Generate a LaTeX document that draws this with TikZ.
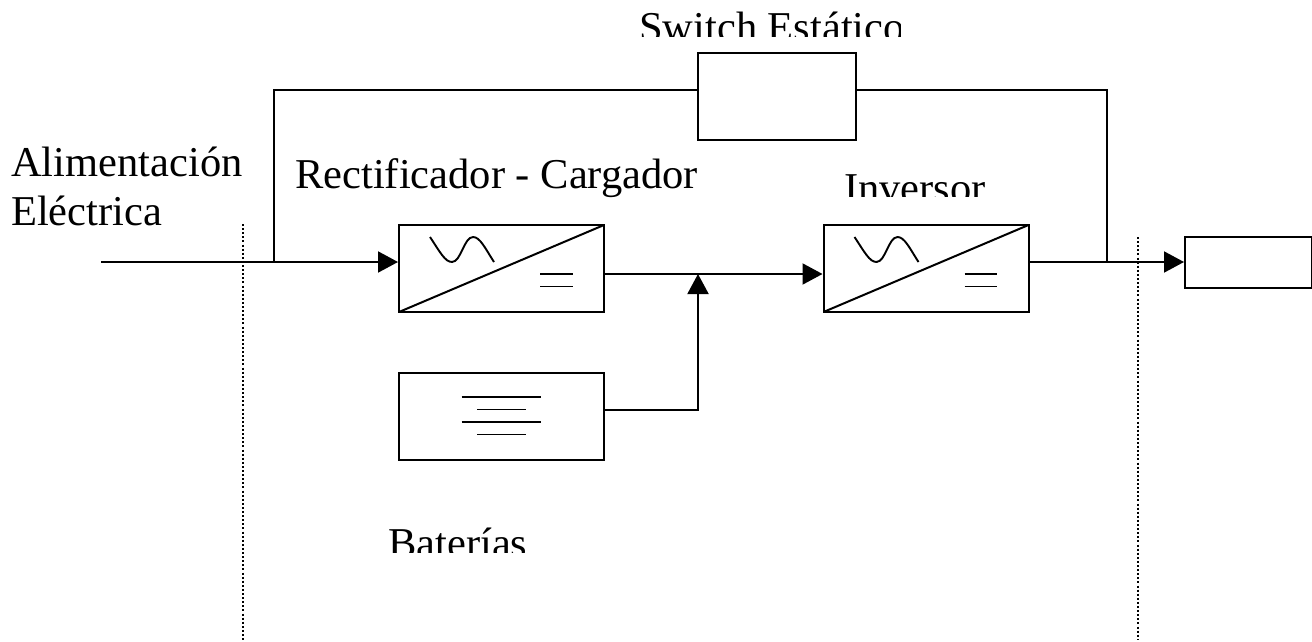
\documentclass[tikz,border=0pt]{standalone}
\usepackage{fontspec}
\setmainfont{Liberation Serif}
\usetikzlibrary{arrows.meta,calc}
\tikzset{
  x=1pt,y=-1pt,
  box/.style={draw=black,line width=2pt,inner sep=0pt,anchor=north west},
  wire/.style={draw=black,line width=2pt},
  thinw/.style={draw=black,line width=1.9pt},
  arrow/.style={wire,-{Triangle[length=20pt,width=21pt]}},
  dots/.style={draw=black,line width=1.6pt,dash pattern=on 2pt off 2.1pt},
  lbl/.style={font=\fontsize{42.5}{46}\selectfont,inner sep=0pt,anchor=base west,text=black},
}
\begin{document}
\begin{tikzpicture}
\useasboundingbox (0,0) rectangle (1312,642);
% dotted limits
\coordinate (d1t) at (243,224); \coordinate (d1b) at (243,640);
\coordinate (d2t) at (1138,237); \coordinate (d2b) at (1138,640);
\draw[dots] (d1t) -- (d1b);
\draw[dots] (d2t) -- (d2b);
% boxes
\node[box,minimum width=205pt,minimum height=87pt] (rect) at (398,224) {};
\node[box,minimum width=205pt,minimum height=87pt] (inv) at (822.5,224) {};
\node[box,minimum width=205pt,minimum height=87.5pt] (bat) at (398,371.5) {};
\node[box,minimum width=158pt,minimum height=87pt] (sw) at (696.7,51.7) {};
\node[box,minimum width=127pt,minimum height=50.5pt] (load) at (1184,236.3) {};
% rect symbols
\draw[wire] ($(rect.south west)+(1,-1)$) -- ($(rect.north east)+(-1,1)$);
\draw[thinw] (430,237) .. controls (440,252) and (445,262) .. (452,262) .. controls (461,262) and (464,237) .. (473,237) .. controls (480,237) and (485,248) .. (494,262);
\draw[thinw] (540,274) -- (573,274);
\draw[thinw] (540,286.5) -- (573,286.5);
% inv symbols
\draw[wire] ($(inv.south west)+(1,-1)$) -- ($(inv.north east)+(-1,1)$);
\draw[thinw] (854.5,237) .. controls (864.5,252) and (869.5,262) .. (876.5,262) .. controls (885.5,262) and (888.5,237) .. (897.5,237) .. controls (904.5,237) and (909.5,248) .. (918.5,262);
\draw[thinw] (964.5,274) -- (997,274);
\draw[thinw] (964.5,286.5) -- (997,286.5);
% battery
\draw[thinw] (461.5,397) -- (541,397);
\draw[thinw] (477,409.5) -- (525.5,409.5);
\draw[thinw] (461.5,422) -- (541,422);
\draw[thinw] (477,434.5) -- (525.5,434.5);
% connectors
\coordinate (in) at (101,262);
\coordinate (t1) at (273.5,262);
\coordinate (t1u) at (273.5,90);
\coordinate (t2) at (1106.5,262);
\coordinate (t2u) at (1106.5,90);
\coordinate (j) at (698,274);
\coordinate (jb) at (698,409.5);
\draw[arrow] (in) -- (rect.west |- in);
\draw[wire] (t1) -- (t1u) -- (sw.west |- t1u);
\draw[wire] (sw.east |- t2u) -- (t2u) -- (t2);
\draw[wire] (rect.east |- j) -- (j);
\draw[arrow] (j) -- (inv.west |- j);
\draw[arrow] (bat.east |- jb) -- (jb) -- (j);
\draw[arrow] (inv.east |- t2) -- (load.west |- t2);
% labels
\node[lbl] (a) at (11,176) {Alimentación};
\node[lbl] (e) at (11,225) {Eléctrica};
\node[lbl] (r) at (295,188) {Rectificador - Cargador};
\begin{scope}
\clip (600,0) rectangle (900,36.5);
\node[lbl] (s) at (639,42) {Switch Estático};
\end{scope}
\begin{scope}
\clip (800,160) rectangle (1000,196.5);
\node[lbl] (i) at (844,202) {Inversor};
\end{scope}
\begin{scope}
\clip (350,500) rectangle (600,552.5);
\node[lbl] (b) at (388,557) {Baterías};
\end{scope}
\end{tikzpicture}
\end{document}
